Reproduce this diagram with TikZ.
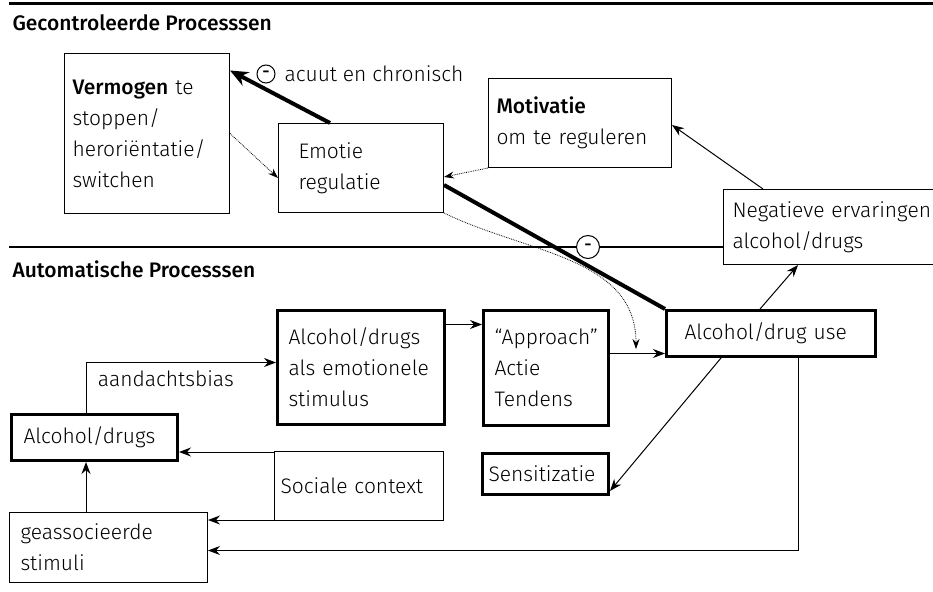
\documentclass[tikz,border=0pt]{standalone}
\usepackage{fontspec}
\setmainfont{Fira Sans Light}[BoldFont={Fira Sans Medium}]
\usetikzlibrary{positioning,calc,arrows.meta}

\begin{document}
\begin{tikzpicture}[x=1pt,y=-1pt,font=\fontsize{21}{31}\selectfont,
	box/.style={draw=black,line width=1pt,anchor=north west,align=left,inner ysep=2pt},
	thickbox/.style={box,line width=3pt},
	arr/.style={line width=1pt,-{Stealth[length=12pt,width=9pt]}},
	dots/.style={line width=0.8pt,densely dotted,-{Stealth[length=10pt,width=7pt]}},
	minus/.style={circle,draw=black,line width=1pt,inner sep=0pt,font=\fontsize{18}{18}\selectfont\bfseries}]
	\useasboundingbox (0,0) rectangle (933,591);
	
	% gecontroleerde processen
	\draw[line width=3pt] (9,3.5) -- (933,3.5);
	\node[anchor=base west] (gec) at (9,31) {\bfseries Gecontroleerde Processsen};
	
	\node[box,minimum width=165pt,minimum height=160pt,inner xsep=8pt,text width=149pt] (verm) at (64,53) {\textbf{Vermogen} te\\stoppen/\\heroriëntatie/\\switchen};
	\node[box,minimum width=165pt,minimum height=89pt,inner xsep=20pt,text width=125pt] (emot) at (278,123) {Emotie\\regulatie};
	\node[box,minimum width=183pt,minimum height=89pt,inner xsep=8pt,text width=167pt] (motiv) at (488,78) {\textbf{Motivatie}\\om te reguleren};
	\node[box,minimum width=240pt,minimum height=75pt,inner xsep=9pt,text width=222pt] (neg) at (723,189) {Negatieve ervaringen\\alcohol/drugs};
	
	\draw[line width=4pt,-{Stealth[length=18pt,width=15pt]}] ([xshift=52pt]emot.north west) -- ([yshift=63pt]verm.east);
	\node[minus,minimum size=18pt] (minus1) at (266,74) {-};
	\node[right=8pt of minus1,inner sep=1pt] (acuut) {acuut en chronisch};
	
	\draw[dots] (verm.east) -- ([yshift=-10pt]emot.west);
	\draw[dots] (motiv.south west) -- ([yshift=-9pt]emot.east);
	\draw[arr] ([xshift=40pt]neg.north west) -- ([yshift=-2pt]motiv.east);
	
	% scheiding
	\coordinate (midL) at (9,247);
	\draw[line width=2.5pt] (midL) -- (midL -| neg.west);
	
	% automatische processen
	\node[anchor=base west] (auto) at (9,277) {\bfseries Automatische Processsen};
	
	\node[thickbox,minimum width=167pt,minimum height=114pt,inner xsep=11pt,text width=145pt] (emostim) at (276,309) {Alcohol/drugs\\als emotionele\\stimulus};
	\node[thickbox,minimum width=125pt,minimum height=115pt,inner xsep=11pt,text width=103pt] (appr) at (482,309) {“Approach”\\Actie\\Tendens};
	\node[thickbox,minimum width=209pt,minimum height=46pt,inner xsep=18pt,text width=173pt] (use) at (665,309) {Alcohol/drug use};
	\node[thickbox,minimum width=126pt,minimum height=41pt,inner xsep=6pt,text width=114pt] (sens) at (481,452) {Sensitizatie};
	\node[thickbox,minimum width=166pt,minimum height=46pt,inner xsep=12pt,text width=142pt] (alc) at (10,413) {Alcohol/drugs};
	\node[box,minimum width=169pt,minimum height=69pt,inner xsep=6pt,text width=157pt] (soc) at (274,451) {Sociale context};
	\node[box,minimum width=198pt,minimum height=70pt,inner xsep=11pt,text width=176pt] (geas) at (9,512) {geassocieerde\\stimuli};
	
	\draw[line width=4pt] ([yshift=-17pt]emot.east) -- (use.north west);
	\node[minus,minimum size=23pt,fill=white] (minus2) at (588,247) {-};
	\coordinate (drop) at (636,349);
	\draw[dots] (emot.south east) to[out=-26,in=90] (drop);
	
	\coordinate (a1) at ([yshift=43pt]emostim.east);
	\draw[arr] (a1) -- (a1 -| appr.west);
	\coordinate (a2) at ([yshift=14.5pt]appr.east);
	\draw[arr] (a2) -- (a2 -| use.west);
	\draw[arr] ([xshift=95pt]use.north west) -- ([xshift=75pt]neg.south west);
	\draw[arr] ([xshift=56pt]use.south west) -- ([yshift=5pt]sens.south east);
	\draw[arr] ([xshift=133pt]use.south west) |- ([yshift=-3pt]geas.east);
	
	\coordinate (a3) at ([yshift=-1pt]soc.north west);
	\draw[arr] (a3) -- (a3 -| alc.east);
	\coordinate (a4) at ([yshift=1pt]soc.south west);
	\draw[arr] (a4) -- (a4 -| geas.east);
	\coordinate (a5) at ([xshift=77pt]geas.north west);
	\draw[arr] (a5) -- (a5 |- alc.south);
	\draw[arr] ([xshift=76pt]alc.north west) |- ([yshift=5pt]emostim.west) node[pos=0.71,below=4pt] (bias) {aandachtsbias};
\end{tikzpicture}
\end{document}
